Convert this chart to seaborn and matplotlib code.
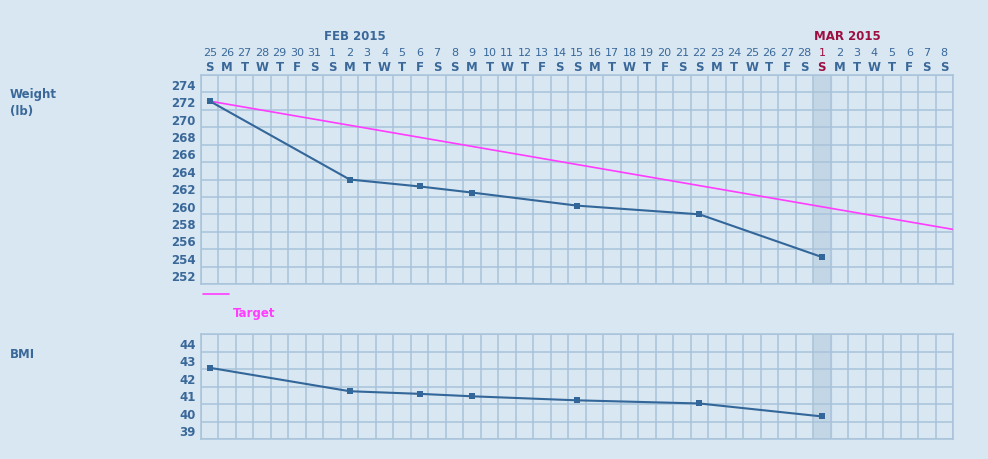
"""体重/BMI 追踪图：2015-01-25 至 2015-03-08"""
import pandas as pd
import numpy as np
import matplotlib
matplotlib.use('Agg')
import matplotlib.pyplot as plt
import matplotlib.transforms as mtransforms
import seaborn as sns

# 数据
start_date = '2015-01-25'
end_date = '2015-03-08'
today = '2015-03-01'
log_dates = ['2015-01-25', '2015-02-02', '2015-02-06', '2015-02-09',
             '2015-02-15', '2015-02-22', '2015-03-01']
weights = [272.0, 263.0, 262.2, 261.5, 260.0, 259.0, 254.1]
bmis = [42.57, 41.23, 41.08, 40.94, 40.71, 40.53, 39.79]
target_dates = ['2015-01-25', '2015-03-09']
target_weights = [272.0, 257.1]
weekday_letters = ['M', 'T', 'W', 'T', 'F', 'S', 'S']
weight_ticks = [252, 254, 256, 258, 260, 262, 264, 266, 268, 270, 272, 274]
bmi_ticks = [39, 40, 41, 42, 43, 44]

# 颜色
BG = '#d8e7f2'
TXT = '#3a6899'
GRID = '#a9c3da'
LINE = '#336699'
TARGET = '#ff3cff'
RED = '#9c0f40'
HILITE = '#c2d6e6'

sns.set_style('white')
plt.rcParams['font.family'] = ['DejaVu Sans']

days = pd.date_range(start_date, end_date)
t0 = pd.Timestamp(start_date)


def to_x(d):
    return (pd.Timestamp(d) - t0).days + 0.5


df = pd.DataFrame({'x': [to_x(d) for d in log_dates], 'weight': weights, 'bmi': bmis})
tdf = pd.DataFrame({'x': [to_x(d) for d in target_dates], 'weight': target_weights})
n_days = len(days)
today_x = to_x(today)

fig = plt.figure(figsize=(9.88, 4.6), dpi=100, facecolor=BG)
ax_w = fig.add_axes([201 / 988, 1 - 285 / 460, 752 / 988, 209 / 460])
ax_b = fig.add_axes([201 / 988, 1 - 440 / 460, 752 / 988, 105 / 460])


def style_axis(ax, ticks, lo, hi):
    ax.set_facecolor(BG)
    ax.set_xlim(0, n_days)
    ax.set_ylim(lo, hi)
    ax.set_xticks(np.arange(0, n_days + 1), minor=True)
    ax.set_xticks([])
    ax.set_yticks(ticks)
    step = ticks[1] - ticks[0]
    ax.set_yticks(np.arange(lo, hi + 0.01, step), minor=True)
    ax.grid(which='minor', color=GRID, linewidth=1.1)
    ax.grid(which='major', visible=False)
    ax.tick_params(which='both', length=0)
    ax.tick_params(axis='y', pad=4, labelsize=8.5, labelcolor=TXT)
    for lab in ax.get_yticklabels():
        lab.set_fontweight('bold')
    for sp in ax.spines.values():
        sp.set_color(GRID)
        sp.set_linewidth(1.1)
    ax.axvspan(today_x - 0.5, today_x + 0.5, color=HILITE, zorder=0.5)
    ax.set_xlabel('')
    ax.set_ylabel('')


style_axis(ax_w, weight_ticks, 251, 275)
style_axis(ax_b, bmi_ticks, 38.5, 44.5)

# 目标线
sns.lineplot(data=tdf, x='x', y='weight', ax=ax_w, color=TARGET, linewidth=1.2, zorder=3)
# 体重
sns.lineplot(data=df, x='x', y='weight', ax=ax_w, color=LINE, linewidth=1.5,
             marker='s', markersize=5, markeredgewidth=0, zorder=4)
# BMI
sns.lineplot(data=df, x='x', y='bmi', ax=ax_b, color=LINE, linewidth=1.5,
             marker='s', markersize=5, markeredgewidth=0, zorder=4)
for ax in (ax_w, ax_b):
    ax.set_xlabel('')
    ax.set_ylabel('')
    ax.set_xlim(0, n_days)

# 顶部日期
trans = mtransforms.blended_transform_factory(ax_w.transData, ax_w.transAxes)
for i, d in enumerate(days):
    col = RED if d == pd.Timestamp(today) else TXT
    ax_w.text(i + 0.5, 1.110, str(d.day), transform=trans, ha='center', va='center',
              fontsize=8, color=col)
    ax_w.text(i + 0.5, 1.040, weekday_letters[d.weekday()], transform=trans, ha='center',
              va='center', fontsize=8.5, fontweight='bold', color=col)
    if d.day == 1:
        mcol = RED if d.month == pd.Timestamp(today).month else TXT
        ax_w.text(i + 0.05, 1.187, d.strftime('%b %Y').upper(), transform=trans,
                  ha='left', va='center', fontsize=8.5, fontweight='bold', color=mcol)

# 图例
ax_w.plot([0.1, 1.6], [-0.048, -0.048], transform=trans, color=TARGET, linewidth=1.2,
          clip_on=False)
ax_w.text(1.8, -0.134, 'Target', transform=trans, ha='left', va='center', fontsize=8.5,
          fontweight='bold', color=TARGET)

# 左侧标签
fig.text(10 / 988, 1 - 103 / 460, 'Weight\n(lb)', ha='left', va='center', fontsize=8.5,
         fontweight='bold', color=TXT, linespacing=1.4)
fig.text(10 / 988, 1 - 355 / 460, 'BMI', ha='left', va='center', fontsize=8.5,
         fontweight='bold', color=TXT)

fig.savefig('out.png', dpi=100, facecolor=BG)
